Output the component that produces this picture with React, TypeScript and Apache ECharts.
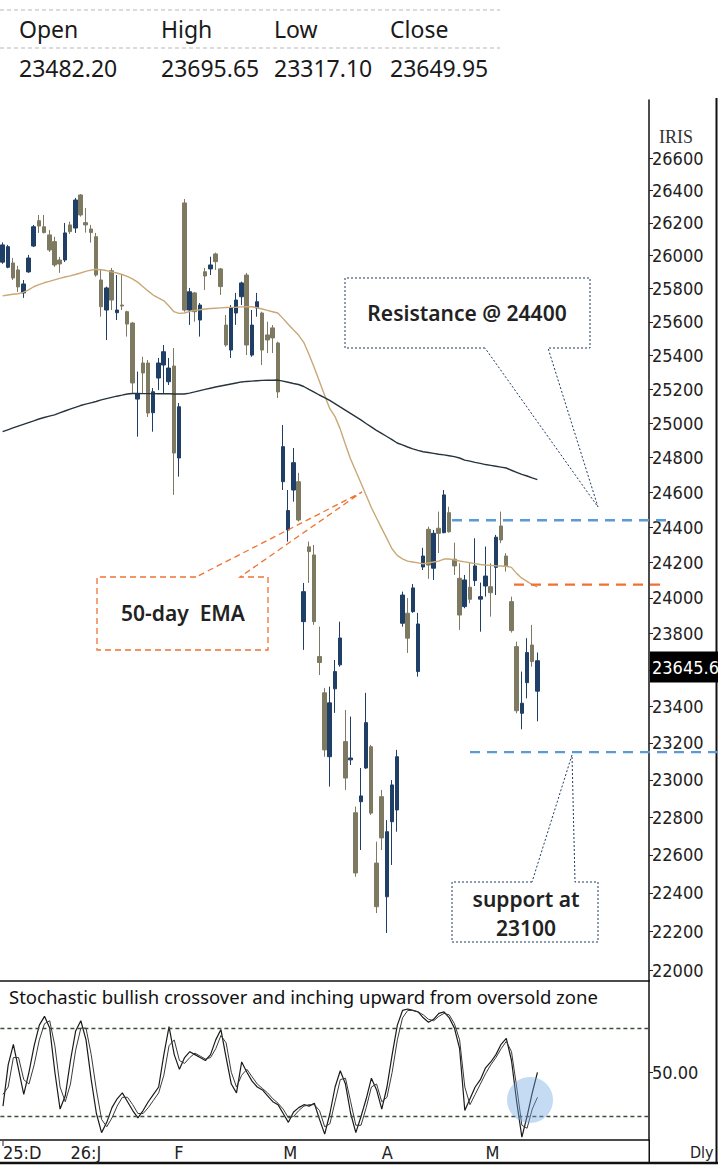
import React, { useEffect, useRef } from "react";
import * as echarts from "echarts";

// ---------- DATA ----------
const opens = [25960,25929,25955,25913,25774,25901,26058,26213,26176,26126,
26085,25973,25973,26187,26168,26371,26201,26162,26115,25852,
25671,25908,25655,25701,25661,25593,25142,25355,25355,25062,
25266,25343,25244,25337,24798,26322,25671,25774,25611,25902,
25919,26010,25919,25581,25432,25653,25751,25882,25402,25683,
25653,25522,25564,25474,24661,24384,24613,24661,23867,24288,
24242,23673,23473,23125,23495,23627,23207,23108,22824,22883,
23064,23179,22557,22910,22380,22776,22839,23858,23914,23923,
23590,24174,24388,24167,24394,24369,24483,24218,24110,23951,
24060,24097,23993,24067,24063,24172,24407,24236,23979,23728,
23361,23529,23737,23482.2];
const highs = [26080,26065,25985,25937,25852,26004,26187,26248,26248,26156,
26115,25992,26199,26207,26353,26377,26291,26187,26138,25913,
25812,25925,25882,25882,25667,25600,25304,25392,25373,25207,
25385,25462,25385,25444,25119,26346,25804,25780,25713,25925,
25993,26018,25925,25641,25701,25774,25842,25895,25671,25774,
25661,25601,25581,25482,24990,24613,24856,24712,24084,24318,
24299,23839,23500,23507,23654,23867,23379,23343,22857,23064,
23473,23189,22670,22946,22785,22999,23162,24035,23999,24078,
23916,24283,24403,24384,24489,24613,24517,24312,24195,24129,
24195,24337,24086,24290,24195,24356,24489,24252,24007,23756,
23590,23775,23849,23695.65];
const lows = [25950,25923,25852,25780,25744,25895,26052,26138,26135,26022,
25931,25895,25961,26132,26138,26238,26140,26079,25872,25631,
25492,25671,25611,25671,25512,25178,24922,25178,25037,24951,
25195,25178,25225,24585,24690,25661,25582,25601,25512,25792,
25882,25913,25762,25452,25385,25582,25701,25402,25392,25631,
25343,25414,25414,25148,24613,24318,24546,24432,23710,24084,
23849,23571,23125,22964,23363,23617,22946,23080,22485,22626,
23060,22812,22295,22626,22191,22547,22723,23839,23693,23916,
23562,24157,24107,24101,24253,24365,24369,24129,23821,23942,
23970,24067,23811,24007,23895,24016,24309,24148,23806,23361,
23274,23443,23617,23317.1];
const closes = [26065,26054,25864,25810,25828,25985,26176,26180,26140,26034,
25943,25949,26138,26146,26340,26248,26187,26140,25882,25691,
25804,25731,25671,25695,25587,25237,25172,25296,25060,25185,
25355,25422,25325,24827,25097,25671,25781,25661,25701,25876,
25943,25963,25812,25462,25683,25731,25834,25462,25581,25721,
25432,25492,25504,25184,24864,24495,24771,24441,24035,24261,
23867,23640,23162,23418,23590,23776,23010,23118,22505,22914,
23310,22822,22328,22690,22723,22973,23125,24016,23775,24056,
23854,24236,24185,24365,24365,24585,24374,24180,23904,24101,
23992,24180,24007,24123,24029,24343,24327,24180,23817,23375,
23416,23695,23645,23649.95];
const ema50 = [25756,25761,25766,25769,25777,25792,25811,25824,25835,25844,
25853,25862,25870,25877,25885,25894,25904,25912,25917,25914,
25909,25901,25894,25885,25874,25859,25839,25813,25786,25761,
25744,25728,25697,25661,25651,25653,25662,25669,25673,25677,
25680,25682,25684,25686,25687,25688,25690,25691,25691,25685,
25677,25669,25661,25653,25621,25586,25553,25521,25478,25407,
25330,25248,25166,25087,25041,24969,24879,24794,24724,24655,
24584,24514,24454,24395,24336,24277,24240,24220,24207,24202,
24197,24192,24197,24202,24207,24219,24219,24214,24208,24203,
24198,24193,24188,24185,24183,24181,24180,24178,24172,24138,
24111,24093,24074,24062];
const ema200 = [24951,24962,24973,24984,24994,25004,25014,25025,25034,25042,
25049,25061,25072,25083,25093,25104,25112,25120,25128,25137,
25145,25152,25159,25165,25172,25175,25175,25174,25174,25174,
25173,25173,25173,25172,25172,25172,25177,25184,25192,25199,
25206,25213,25219,25225,25231,25237,25243,25246,25248,25250,
25252,25253,25253,25254,25248,25241,25234,25228,25216,25199,
25183,25166,25151,25134,25115,25096,25077,25058,25039,25020,
24999,24979,24959,24941,24923,24905,24885,24874,24862,24851,
24842,24834,24830,24825,24820,24816,24811,24806,24798,24786,
24780,24773,24767,24760,24755,24750,24745,24740,24727,24715,
24703,24694,24683,24673];
const stochK = [27,55,69,52,35,50,68,82,88,80,
50,25,34,58,78,85,72,45,22,9,
16,26,32,36,30,24,19,24,30,35,
40,62,81,62,52,60,64,62,60,58,
62,72,79,60,42,36,57,50,44,40,
38,34,30,28,22,16,23,26,28,27,
29,18,8,22,40,51,42,22,9,20,
32,46,38,25,40,62,82,92,93,92,
91,87,84,86,90,91,87,80,66,24,
32,40,45,53,57,62,69,73,58,30,
6,20,36,50];
const stochD = [35,40,60,60,45,42,55,72,83,85,
68,40,30,42,65,80,80,62,38,18,
13,19,27,33,33,28,22,22,26,31,
36,48,68,72,58,56,60,63,61,59,
60,66,75,70,50,40,48,52,47,42,
39,36,32,29,25,19,20,24,27,28,
28,24,13,15,30,45,46,30,14,14,
26,40,42,30,33,50,72,87,92,92,
91,89,86,85,88,90,89,83,72,40,
28,35,42,49,55,60,66,71,64,40,
14,12,25,33];
const priceTicks = [26600,26400,26200,26000,25800,25600,25400,25200,25000,24800,24600,24400,
24200,24000,23800,23600,23400,23200,23000,22800,22600,22400,22200,22000];
// 23600 is hidden behind the last-price tag in the reference
const priceLabels = [26600,26400,26200,26000,25800,25600,25400,25200,25000,24800,24600,24400,
24200,24000,23800,23400,23200,23000,22800,22600,22400,22200,22000];
const monthLabels = ["25:D", "26:J", "F", "M", "A", "M"];
const monthIdx = [0, 13, 33, 54, 73, 93];
const stochLevels = [80, 20];
const stochTicks = [50];
const headerNames = ["Open", "High", "Low", "Close"];
const headerValues = ["23482.20", "23695.65", "23317.10", "23649.95"];
const resistanceLevel = 24440;
const emaLevel = 24075;
const supportLevel = 23150;
const lastPrice = 23645.6;

// ---------- STYLE ----------
const TOTAL_SLOTS = 125;
const BLUE = "#1f3f66";
const KHAKI = "#7e7a62";
const AXIS_FONT = "'DejaVu Sans Condensed', 'DejaVu Sans'";
const TEXT_FONT = "'Noto Sans'";

export default function App() {
  const ref = useRef<HTMLDivElement>(null);

  useEffect(() => {
    if (!ref.current) return;
    const chart = echarts.init(ref.current, null, { renderer: "svg" });

    const ln = Math.log;
    const K = 812 / ln(26600 / 22000);
    const yMax = ln(26600) + 58 / K;
    const yMin = ln(22000) - 11 / K;

    const cats = Array.from({ length: TOTAL_SLOTS }, (_, i) => String(i));
    const labelOf = (i: number) => {
      const k = monthIdx.indexOf(i);
      return k >= 0 ? monthLabels[k] : "";
    };
    const candles = opens.map((o, i) => [ln(o), ln(closes[i]), ln(lows[i]), ln(highs[i])]);
    const tickLn = priceTicks.map((p) => ln(p));
    const labelLn = priceLabels.map((p) => ln(p));

    const option: any = {
      animation: false,
      backgroundColor: "#ffffff",
      grid: [
        { left: 0, right: 69, top: 100, height: 881 },
        { left: 0, right: 69, top: 981, height: 159 },
      ],
      xAxis: [
        {
          type: "category", gridIndex: 0, data: cats, boundaryGap: true,
          axisLine: { show: true, lineStyle: { color: "#111", width: 1.5 } },
          axisTick: { show: false }, axisLabel: { show: false }, splitLine: { show: false },
        },
        {
          type: "category", gridIndex: 1, data: cats, boundaryGap: true,
          axisLine: { show: true, lineStyle: { color: "#111", width: 1.5 } },
          axisTick: { show: false },
          axisLabel: {
            interval: (i: number) => monthIdx.indexOf(i) >= 0,
            formatter: (v: string) => labelOf(Number(v)),
            align: "left", fontFamily: AXIS_FONT, fontSize: 18, color: "#222", margin: 3,
          },
          splitLine: { show: false },
        },
      ],
      yAxis: [
        {
          type: "value", gridIndex: 0, position: "right", min: yMin, max: yMax,
          axisLine: { show: true, lineStyle: { color: "#111", width: 1.5 } },
          axisTick: { show: true, customValues: tickLn, length: 4, lineStyle: { color: "#222" } },
          axisLabel: {
            customValues: labelLn,
            formatter: (v: number) => String(Math.round(Math.exp(v) / 100) * 100),
            fontFamily: AXIS_FONT, fontSize: 18, color: "#222", margin: 3,
          },
          splitLine: { show: false },
        },
        {
          type: "value", gridIndex: 1, position: "right", min: 4, max: 112,
          axisLine: { show: true, lineStyle: { color: "#111", width: 1.5 } },
          axisTick: { show: true, customValues: stochTicks, length: 4, lineStyle: { color: "#222" } },
          axisLabel: {
            customValues: stochTicks,
            formatter: (v: number) => v.toFixed(2),
            fontFamily: AXIS_FONT, fontSize: 18, color: "#222", margin: 3,
          },
          splitLine: { show: false },
        },
      ],
      series: [
        {
          type: "candlestick", xAxisIndex: 0, yAxisIndex: 0, data: candles, barWidth: 4,
          itemStyle: { color: BLUE, color0: KHAKI, borderColor: BLUE, borderColor0: KHAKI, borderWidth: 1 },
        },
        {
          type: "line", xAxisIndex: 0, yAxisIndex: 0, data: ema50.map((v) => ln(v)),
          symbol: "none", lineStyle: { color: "#c9a877", width: 1.4 }, z: 3,
        },
        {
          type: "line", xAxisIndex: 0, yAxisIndex: 0, data: ema200.map((v) => ln(v)),
          symbol: "none", lineStyle: { color: "#26343c", width: 1.4 }, z: 3,
        },
        {
          type: "line", xAxisIndex: 1, yAxisIndex: 1, data: stochK,
          symbol: "none", lineStyle: { color: "#1a1a1a", width: 1.2 },
          markLine: {
            silent: true, symbol: "none", label: { show: false },
            lineStyle: { color: "#3b4d3b", type: [4, 3], width: 1.3 },
            data: stochLevels.map((v) => ({ yAxis: v })),
          },
        },
        {
          type: "line", xAxisIndex: 1, yAxisIndex: 1, data: stochD,
          symbol: "none", lineStyle: { color: "#3a3a3a", width: 1 },
        },
      ],
    };
    chart.setOption(option);

    const py = (p: number) => chart.convertToPixel({ yAxisIndex: 0 }, ln(p)) as number;
    const yRes = py(resistanceLevel);
    const yEma = py(emaLevel);
    const ySup = py(supportLevel);
    const yLast = py(lastPrice);

    const NAVY = "#1d3b63";
    const ORANGE = "#f07232";
    const dotted = { stroke: NAVY, lineWidth: 1, lineDash: [2, 2], fill: "none" };
    const headerX = [19, 161, 274, 390];
    const calloutText = (text: string, x: number, y: number) => ({
      type: "text", x, y, z: 50,
      style: { text, fontFamily: TEXT_FONT, fontSize: 21, fontWeight: 600, fill: "#222", align: "center", verticalAlign: "middle" },
    });

    const g: any[] = [];
    // header table
    g.push({ type: "line", shape: { x1: 0, y1: 10, x2: 500, y2: 10 }, style: { stroke: "#cfcfcf", lineWidth: 1.5, lineDash: [4, 3] } });
    g.push({ type: "line", shape: { x1: 0, y1: 48, x2: 500, y2: 48 }, style: { stroke: "#cfcfcf", lineWidth: 1.5, lineDash: [4, 3] } });
    headerNames.forEach((t, i) => {
      g.push({ type: "text", x: headerX[i], y: 29, style: { text: t, fontFamily: TEXT_FONT, fontSize: 23, fill: "#1a1a1a", verticalAlign: "middle" } });
      g.push({ type: "text", x: headerX[i], y: 68, style: { text: headerValues[i], fontFamily: TEXT_FONT, fontSize: 23, fill: "#1a1a1a", verticalAlign: "middle" } });
    });
    // IRIS
    g.push({ type: "text", x: 659, y: 137, style: { text: "IRIS", fontFamily: "'Liberation Serif'", fontSize: 18, fill: "#333", verticalAlign: "middle" } });

    // resistance callout
    g.push({ type: "polygon", shape: { points: [[485, 348], [345, 348], [345, 278], [590, 278], [590, 348], [548, 348], [598, 507]] }, style: dotted, z: 50 });
    g.push(calloutText("Resistance @ 24400", 467, 313));

    // 50-day EMA callout
    g.push({ type: "polygon", shape: { points: [[196, 577], [97, 577], [97, 650], [268, 650], [268, 577], [240, 577], [362, 492]] }, style: { stroke: ORANGE, lineWidth: 1.3, lineDash: [6, 4], fill: "none" }, z: 50 });
    g.push(calloutText("50-day  EMA", 183, 613));

    // support callout
    g.push({ type: "polygon", shape: { points: [[532, 882], [452, 882], [452, 942], [598, 942], [598, 882], [575, 882], [572, 755]] }, style: dotted, z: 50 });
    g.push(calloutText("support at", 526, 899));
    g.push(calloutText("23100", 526, 928));

    // level lines
    g.push({ type: "line", shape: { x1: 452, y1: yRes, x2: 670, y2: yRes }, style: { stroke: "#5b9bd5", lineWidth: 2.4, lineDash: [10, 7] }, z: 60 });
    g.push({ type: "line", shape: { x1: 514, y1: yEma, x2: 660, y2: yEma }, style: { stroke: ORANGE, lineWidth: 2.2, lineDash: [10, 7] }, z: 60 });
    g.push({ type: "line", shape: { x1: 470, y1: ySup, x2: 718, y2: ySup }, style: { stroke: "#5b9bd5", lineWidth: 2.4, lineDash: [10, 7] }, z: 60 });

    // last price tag
    g.push({ type: "rect", shape: { x: 650, y: yLast - 10, width: 70, height: 31 }, style: { fill: "#000" }, z: 70 });
    g.push({ type: "text", x: 652, y: yLast + 5.5, style: { text: "23645.6", fontFamily: AXIS_FONT, fontSize: 18, fill: "#fff", verticalAlign: "middle" }, z: 71 });

    // stochastic panel
    g.push({ type: "text", x: 9, y: 996, style: { text: "Stochastic bullish crossover and inching upward from oversold zone", fontFamily: TEXT_FONT, fontSize: 18.5, fill: "#111", verticalAlign: "middle" }, z: 50 });
    g.push({ type: "circle", shape: { cx: 530, cy: 1100, r: 23 }, style: { fill: "rgba(110,165,225,0.4)" }, z: 40 });
    g.push({ type: "line", shape: { x1: 3, y1: 1141, x2: 3, y2: 1146 }, style: { stroke: "#222", lineWidth: 1 } });

    // frame
    g.push({ type: "line", shape: { x1: 649.25, y1: 1140, x2: 649.25, y2: 1163 }, style: { stroke: "#111", lineWidth: 1.5 } });
    g.push({ type: "line", shape: { x1: 0, y1: 1163, x2: 718, y2: 1163 }, style: { stroke: "#111", lineWidth: 2.5 } });
    g.push({ type: "line", shape: { x1: 716.5, y1: 98, x2: 716.5, y2: 1164 }, style: { stroke: "#111", lineWidth: 2 } });
    g.push({ type: "text", x: 690, y: 1152, style: { text: "Dly", fontFamily: AXIS_FONT, fontSize: 16, fill: "#222", verticalAlign: "middle" } });

    chart.setOption({ graphic: g });

    return () => chart.dispose();
  }, []);

  return (
    <div
      ref={ref}
      style={{ position: "absolute", left: 0, top: 0, width: 718, height: 1167 }}
    />
  );
}
